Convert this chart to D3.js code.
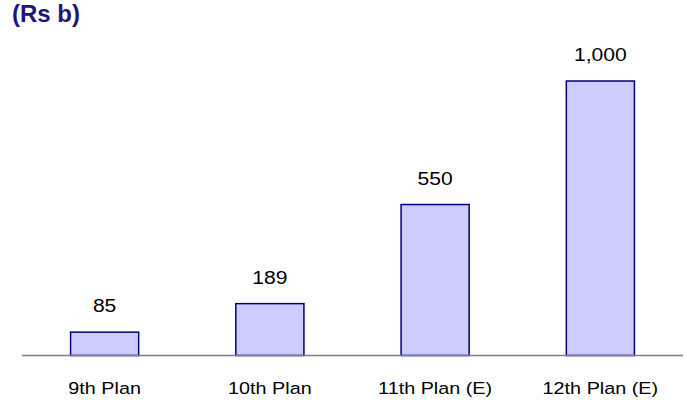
<!DOCTYPE html>
<html>
<head>
<meta charset="utf-8">
<script src="https://cdn.jsdelivr.net/npm/d3@7"></script>
<style>
  body { margin: 0; background: #fff; }
  text { font-family: "Liberation Sans", Arial, sans-serif; }
</style>
</head>
<body>
<svg width="687" height="400"></svg>
<script>
// plan periods and investment (Rs b)
const plans = ['9th Plan', '10th Plan', '11th Plan (E)', '12th Plan (E)'];
const spend = [85, 189, 550, 1000];
const valueLabels = ['85', '189', '550', '1,000'];

const svg = d3.select('svg');

const baseY = 355.5;
const xScale = d3.scaleBand()
    .domain(plans)
    .range([22, 683])
    .paddingInner(0.588)
    .paddingOuter(0.294);

const yScale = d3.scaleLinear()
    .domain([0, 1000])
    .range([baseY, 81]);

// title
svg.append('text')
    .attr('x', 12)
    .attr('y', 22)
    .attr('font-size', 24)
    .attr('font-weight', 'bold')
    .attr('fill', '#22157a')
    .text('(Rs b)');

const data = plans.map((p, i) => ({plan: p, value: spend[i], label: valueLabels[i]}));

svg.selectAll('rect.bar')
    .data(data)
    .join('rect')
    .attr('class', 'bar')
    .attr('x', d => xScale(d.plan))
    .attr('y', d => yScale(d.value))
    .attr('width', xScale.bandwidth())
    .attr('height', d => baseY - yScale(d.value))
    .attr('fill', '#ccccff')
    .attr('stroke', '#000080')
    .attr('stroke-width', 1.5);

// baseline
svg.append('line')
    .attr('x1', 22).attr('x2', 683)
    .attr('y1', baseY).attr('y2', baseY)
    .attr('stroke', '#808080')
    .attr('stroke-width', 1.5);

// value labels
svg.selectAll('text.val')
    .data(data)
    .join('text')
    .attr('class', 'val')
    .attr('text-anchor', 'middle')
    .attr('font-size', 18.5)
    .attr('fill', '#000')
    .attr('transform', d => `translate(${xScale(d.plan) + xScale.bandwidth() / 2},${yScale(d.value) - 20}) scale(1.14,1)`)
    .text(d => d.label);

// category labels
const xAxis = d3.axisBottom(xScale).tickSize(0).tickPadding(0);
const xg = svg.append('g')
    .attr('transform', `translate(0,${baseY})`)
    .call(xAxis);
xg.select('.domain').remove();
xg.selectAll('.tick text')
    .attr('dy', null)
    .attr('y', 0)
    .attr('font-family', '"Liberation Sans", Arial, sans-serif')
    .attr('font-size', 16.5)
    .attr('fill', '#000')
    .attr('transform', 'translate(0,38) scale(1.2,1)');
</script>
</body>
</html>
